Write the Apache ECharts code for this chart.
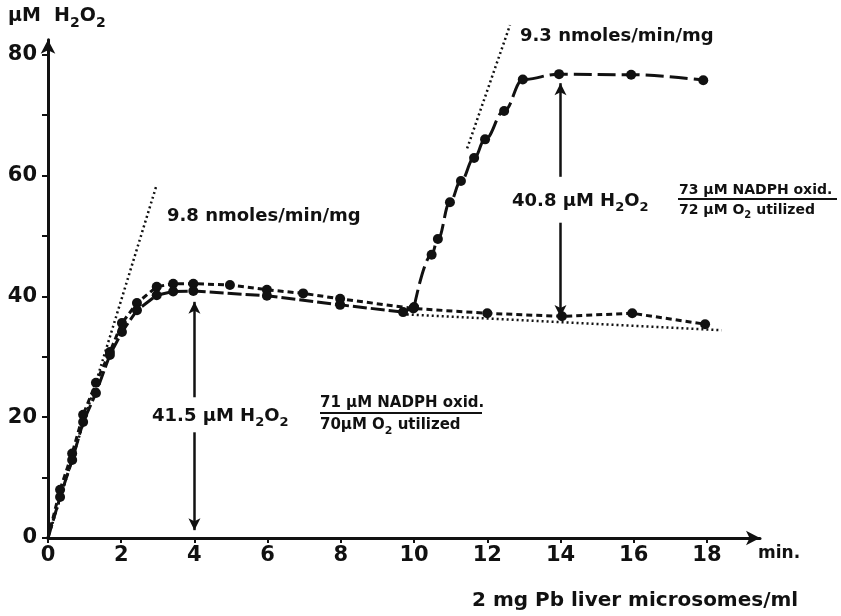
<!DOCTYPE html>
<html>
<head>
<meta charset="utf-8">
<title>H2O2 formation by Pb liver microsomes</title>
<script src="https://cdn.jsdelivr.net/npm/echarts@6/dist/echarts.min.js"></script>
<style>
  html, body { margin: 0; padding: 0; background: #fff; }
  #chart { width: 841px; height: 616px; }
</style>
</head>
<body>
<div id="chart"></div>
<script>
// axis ticks
var xTicks = [0, 2, 4, 6, 8, 10, 12, 14, 16, 18];
var yTicks = [0, 10, 20, 30, 40, 50, 60, 70, 80];
var yLabels = [0, 20, 40, 60, 80];

// run A, dashed curve (min, uM H2O2)
var tUpper = [0, 0.33, 0.66, 0.96, 1.31, 1.69, 2.02, 2.43, 2.97, 3.42, 3.97, 4.97, 5.98, 6.97, 7.98, 9.98, 12.0, 14.04, 15.96, 17.95];
var yUpper = [0, 8.0, 14.0, 20.4, 25.7, 30.8, 35.6, 38.9, 41.6, 42.1, 42.1, 41.9, 41.1, 40.5, 39.6, 38.0, 37.2, 36.7, 37.2, 35.4];

// run B, solid curve up to the second addition
var tLower = [0, 0.33, 0.66, 0.96, 1.31, 1.69, 2.02, 2.43, 2.97, 3.42, 3.97, 5.98, 7.98, 9.7, 10.0];
var yLower = [0, 6.8, 12.9, 19.2, 24.0, 30.3, 34.1, 37.7, 40.2, 40.8, 40.9, 40.1, 38.6, 37.4, 38.2];

// run B after the second addition
var tRise = [10.0, 10.48, 10.65, 10.98, 11.28, 11.64, 11.94, 12.46, 12.97, 13.96, 15.93, 17.9];
var yRise = [38.2, 46.9, 49.5, 55.6, 59.1, 62.9, 66.0, 70.7, 75.9, 76.8, 76.7, 75.8];

// dotted tangents and baseline extrapolation
var tangent1 = [[0, 0], [2.95, 58.1]];
var tangent2 = [[11.45, 64.5], [12.62, 84.9]];
var baseline = [[9.8, 37.0], [18.4, 34.4]];

// double arrows: x, [top, gap top, gap bottom, bottom]
var arrowX = [4, 14];
var arrowY = [[39.1, 23.3, 17.5, 1.3], [75.3, 59.8, 52.2, 36.6]];

var FONT = '"DejaVu Sans", sans-serif';
var INK = '#111';

function pairs(xs, ys) {
  return xs.map(function (x, i) { return [x, ys[i]]; });
}

function dot(v, p) {
  return p.dataIndex === 0 && v[0] === 0 ? 'none' : 'circle';
}

function rich(size) {
  return {
    n: { fontFamily: FONT, fontWeight: 'bold', fontSize: size, lineHeight: size + 2, verticalAlign: 'top', fill: INK },
    s: { fontFamily: FONT, fontWeight: 'bold', fontSize: Math.round(size * 0.72), lineHeight: Math.round(size * 0.72), padding: [Math.round(size * 0.5), 0, 0, 0], verticalAlign: 'top', fill: INK }
  };
}

function text(x, y, str, size) {
  return {
    type: 'text', x: x, y: y, silent: true,
    style: { text: str, rich: rich(size), verticalAlign: 'middle', fill: INK }
  };
}

function hline(x1, x2, y) {
  return {
    type: 'line', silent: true,
    shape: { x1: x1, y1: y, x2: x2, y2: y },
    style: { stroke: INK, lineWidth: 2 }
  };
}

var arrowLines = [];
arrowX.forEach(function (x, i) {
  var a = arrowY[i];
  arrowLines.push([{ coord: [x, a[1]], symbol: 'none' }, { coord: [x, a[0]], symbol: 'arrow' }]);
  arrowLines.push([{ coord: [x, a[2]], symbol: 'none' }, { coord: [x, a[3]], symbol: 'arrow' }]);
});

var chart = echarts.init(document.getElementById('chart'));

var axisCommon = {
  type: 'value',
  splitLine: { show: false },
  axisLine: { show: true, symbol: ['none', 'arrow'], symbolSize: [11, 14], lineStyle: { color: INK, width: 3 } },
  axisTick: { show: true, inside: false, length: 6, lineStyle: { color: INK, width: 2 } },
  axisLabel: { color: INK, fontFamily: FONT, fontWeight: 'bold', fontSize: 21 }
};

var option = {
  animation: false,
  backgroundColor: '#fff',
  grid: { left: 48, right: 81, top: 39.7, bottom: 78 },
  xAxis: echarts.util.merge({
    min: 0, max: 19.45,
    axisTick: { customValues: xTicks, length: 5 },
    axisLabel: { customValues: xTicks, margin: 7 }
  }, axisCommon),
  yAxis: echarts.util.merge({
    min: 0, max: 82.5,
    axisTick: { customValues: yTicks },
    axisLabel: { customValues: yLabels, margin: 11 }
  }, axisCommon),
  series: [
    {
      type: 'line', data: pairs(tUpper, yUpper),
      symbol: dot, symbolSize: 10, itemStyle: { color: INK },
      lineStyle: { color: INK, width: 3, type: [6, 4] }, z: 4
    },
    {
      type: 'line', data: pairs(tLower, yLower),
      symbol: dot, symbolSize: 10, itemStyle: { color: INK },
      lineStyle: { color: INK, width: 3, type: [14, 4] }, z: 4
    },
    {
      type: 'line', data: pairs(tRise, yRise), smooth: 0.4, smoothMonotone: 'x',
      symbol: 'circle', symbolSize: 10, itemStyle: { color: INK },
      lineStyle: { color: INK, width: 3, type: [18, 6] }, z: 4
    },
    {
      type: 'line', data: tangent1, symbol: 'none', clip: false,
      lineStyle: { color: INK, width: 2.5, type: [2, 3] },
      markLine: {
        silent: true, animation: false, symbolSize: [9, 12],
        label: { show: false },
        lineStyle: { color: INK, width: 2.5, type: 'solid' },
        data: arrowLines
      }
    },
    {
      type: 'line', data: tangent2, symbol: 'none', clip: false,
      lineStyle: { color: INK, width: 2.5, type: [2, 3] }
    },
    {
      type: 'line', data: baseline, symbol: 'none', clip: false,
      lineStyle: { color: INK, width: 2.5, type: [2, 3] }
    }
  ],
  graphic: [
    text(8, 17, '{n|µM  H}{s|2}{n|O}{s|2}', 19),
    text(167, 217, '{n|9.8 nmoles/min/mg}', 18),
    text(520, 37, '{n|9.3 nmoles/min/mg}', 18),
    text(152, 417, '{n|41.5 µM H}{s|2}{n|O}{s|2}', 18),
    text(512, 202, '{n|40.8 µM H}{s|2}{n|O}{s|2}', 18),
    text(320, 404, '{n|71 µM NADPH oxid.}', 15),
    hline(320, 482, 413),
    text(320, 426, '{n|70µM O}{s|2}{n| utilized}', 15),
    text(679, 191, '{n|73 µM NADPH oxid.}', 14),
    hline(678, 837, 199),
    text(679, 211, '{n|72 µM O}{s|2}{n| utilized}', 14),
    text(758, 555, '{n|min.}', 17),
    text(472, 602, '{n|2 mg Pb liver microsomes/ml}', 20)
  ]
};

chart.setOption(option);
</script>
</body>
</html>
